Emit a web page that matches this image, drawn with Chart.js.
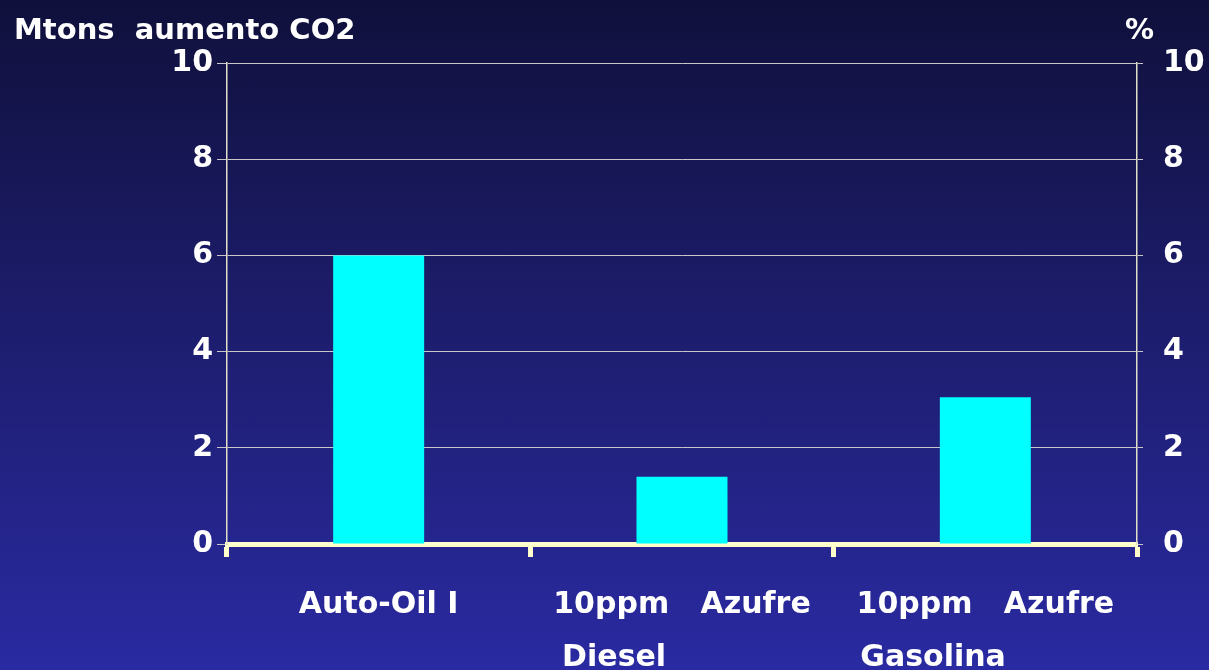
<!DOCTYPE html>
<html>
<head>
<meta charset="utf-8">
<script src="https://cdn.jsdelivr.net/npm/chart.js@4"></script>
<style>
  html, body { margin: 0; padding: 0; }
  body {
    width: 1209px; height: 670px; overflow: hidden; position: relative;
    background: linear-gradient(to bottom, #10103c 0%, #1c1c6a 45%, #2a2aa2 100%);
    font-family: 'Comic Sans MS', 'DejaVu Sans', sans-serif;
  }
  #wrap { position: absolute; left: 0; top: 0; width: 1209px; height: 670px; }
  .ttl { position: absolute; color: #fff; font-weight: bold; font-size: 29px; white-space: pre; line-height: 1; }
</style>
</head>
<body>
<div id="wrap"><canvas id="myChart"></canvas></div>
<div class="ttl" style="left:14px; top:15px;">Mtons  aumento CO2</div>
<div class="ttl" style="left:1125px; top:15px;">%</div>
<script>
const categories = [
  'Auto-Oil I',
  ['10ppm   Azufre', 'Diesel             '],
  ['10ppm   Azufre', 'Gasolina          ']
];
const co2Values = [6, 1.4, 3.05];
const yTicks = [0, 2, 4, 6, 8, 10];

const tickFont = { family: "'Comic Sans MS', 'DejaVu Sans', sans-serif", size: 30, weight: 'bold', lineHeight: 1.75 };

const ctx = document.getElementById('myChart');
new Chart(ctx, {
  type: 'bar',
  data: {
    labels: categories,
    datasets: [{
      label: 'Mtons aumento CO2',
      data: co2Values,
      backgroundColor: '#00ffff',
      borderWidth: 0,
      barPercentage: 0.3,
      categoryPercentage: 1,
      yAxisID: 'y'
    }]
  },
  options: {
    responsive: true,
    maintainAspectRatio: false,
    animation: false,
    layout: { padding: { top: 63, left: 0, right: 0, bottom: 0 } },
    plugins: { legend: { display: false }, tooltip: { enabled: false } },
    scales: {
      x: {
        offset: true,
        border: { color: '#ffffcc', width: 5 },
        grid: {
          offset: true, drawOnChartArea: false, drawTicks: true,
          tickLength: 13, tickColor: '#ffffcc', tickWidth: 5, color: '#ffffcc'
        },
        ticks: { color: '#ffffff', font: tickFont, padding: 22, maxRotation: 0, autoSkip: false },
        afterFit: s => { s.height = 126; }
      },
      y: {
        position: 'left',
        min: yTicks[0], max: yTicks[yTicks.length - 1],
        afterBuildTicks: s => { s.ticks = yTicks.map(v => ({ value: v })); },
        border: { color: '#e0e0c8', width: 1.5 },
        grid: { color: '#c8c8c8', lineWidth: 1, tickLength: 10, tickColor: '#c8c8c8' },
        ticks: { color: '#ffffff', font: { ...tickFont, lineHeight: 1.2 }, padding: 4 },
        afterFit: s => { s.width = 227; }
      },
      y2: {
        position: 'right',
        min: yTicks[0], max: yTicks[yTicks.length - 1],
        afterBuildTicks: s => { s.ticks = yTicks.map(v => ({ value: v })); },
        border: { color: '#e0e0c8', width: 1.5 },
        grid: { drawOnChartArea: false, tickLength: 6, tickColor: '#c8c8c8' },
        ticks: { color: '#ffffff', font: { ...tickFont, lineHeight: 1.2 }, padding: 20 },
        afterFit: s => { s.width = 72; }
      }
    }
  }
});
</script>
</body>
</html>
